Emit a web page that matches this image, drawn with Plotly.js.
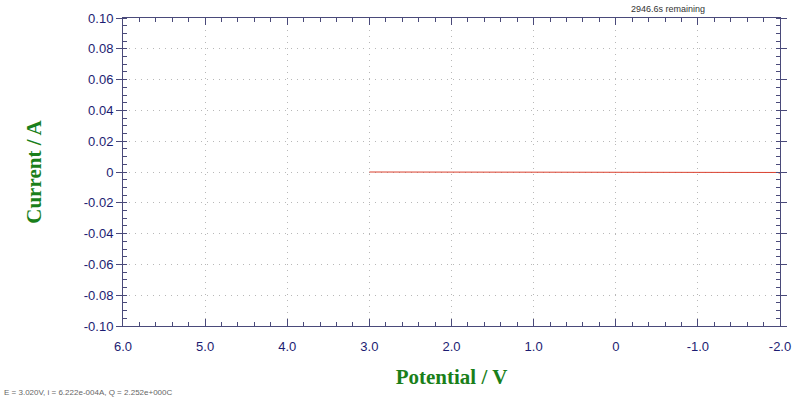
<!DOCTYPE html>
<html>
<head>
<meta charset="utf-8">
<script src="https://cdn.plot.ly/plotly-3.0.1.min.js"></script>
<style>
  html, body { margin: 0; padding: 0; background: #fff; }
  #chart { width: 800px; height: 400px; }
</style>
</head>
<body>
<div id="chart"></div>
<script>
// scan data: potential (V) vs current (A)
const potential = [3.0, 2.5, 2.0, 1.5, 1.0, 0.5, 0.0, -0.5, -1.0, -1.5, -1.9, -1.97, -2.0];
const current = [0, 0, 0, 0, 0, 0, 0, 0, 0, 0, 0, -0.0003, -0.0008];

const xTickVals = [6, 5, 4, 3, 2, 1, 0, -1, -2];
const xTickText = ["6.0", "5.0", "4.0", "3.0", "2.0", "1.0", "0", "-1.0", "-2.0"];
const yTickVals = [0.1, 0.08, 0.06, 0.04, 0.02, 0, -0.02, -0.04, -0.06, -0.08, -0.1];
const yTickText = ["0.10", "0.08", "0.06", "0.04", "0.02", "0", "-0.02", "-0.04", "-0.06", "-0.08", "-0.10"];

const statusText = "2946.6s remaining";
const readoutText = "E = 3.020V, i = 6.222e-004A, Q = 2.252e+000C";

const axisColor = "#4a4a7a";
const labelColor = "#1c1c72";
const titleColor = "#1a7f1a";
const gridColor = "#b8b8b8";

const trace = {
  x: potential,
  y: current,
  type: "scatter",
  mode: "lines",
  line: { color: "#d9402e", width: 1 },
  hoverinfo: "skip",
  showlegend: false
};

const titleFont = { family: "Liberation Serif, Times New Roman, serif", size: 21, color: titleColor, weight: "bold" };

const layout = {
  width: 800,
  height: 400,
  margin: { l: 123, r: 20, t: 18, b: 74 },
  paper_bgcolor: "#fff",
  plot_bgcolor: "#fff",
  showlegend: false,
  font: { family: "Liberation Sans, Arial, sans-serif", size: 12, color: labelColor },
  xaxis: {
    range: [6, -2],
    tickvals: xTickVals,
    ticktext: xTickText,
    ticks: "inside",
    ticklen: 7,
    tickcolor: axisColor,
    ticklabelstandoff: 8,
    showline: true,
    linecolor: axisColor,
    linewidth: 1,
    mirror: "allticks",
    zeroline: false,
    showgrid: true,
    gridcolor: gridColor,
    griddash: "1px,5px",
    gridwidth: 1,
    minor: { dtick: 0.2, ticks: "inside", ticklen: 4, tickcolor: axisColor, showgrid: false },
    tickfont: { size: 13, color: labelColor },
    title: { text: "Potential / V", font: titleFont, standoff: 16 }
  },
  yaxis: {
    range: [-0.1, 0.1],
    tickvals: yTickVals,
    ticktext: yTickText,
    ticks: "outside",
    ticklen: 6,
    tickcolor: axisColor,
    showline: true,
    linecolor: axisColor,
    linewidth: 1,
    mirror: "allticks",
    zeroline: false,
    showgrid: true,
    gridcolor: gridColor,
    griddash: "1px,5px",
    gridwidth: 1,
    minor: { dtick: 0.005, ticks: "inside", ticklen: 4, tickcolor: axisColor, showgrid: false },
    tickfont: { size: 13, color: labelColor },
    title: { text: "Current / A", font: titleFont, standoff: 36 }
  },
  annotations: [
    {
      text: statusText,
      xref: "paper", yref: "paper",
      x: 0.83, y: 1.0,
      xanchor: "center", yanchor: "bottom",
      yshift: 2,
      showarrow: false,
      font: { size: 9, color: "#333" }
    },
    {
      text: readoutText,
      xref: "paper", yref: "paper",
      x: 0.0, y: 0.0,
      xanchor: "left", yanchor: "top",
      xshift: -121, yshift: -60,
      showarrow: false,
      font: { size: 8, color: "#666" }
    }
  ]
};

Plotly.newPlot("chart", [trace], layout, { displayModeBar: false, staticPlot: true });
</script>
</body>
</html>
